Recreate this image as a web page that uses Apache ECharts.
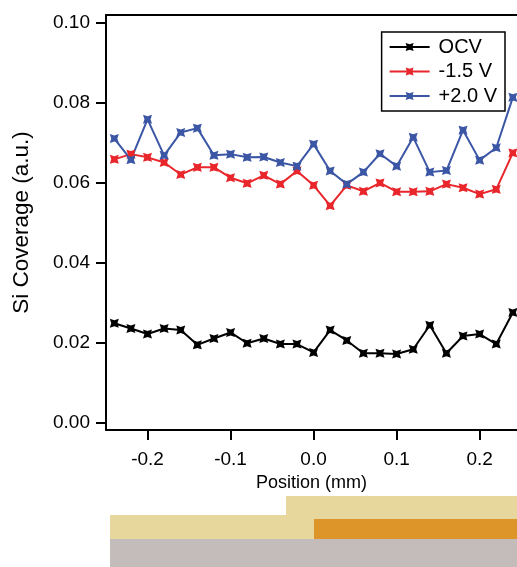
<!DOCTYPE html>
<html>
<head>
<meta charset="utf-8">
<script src="https://cdn.jsdelivr.net/npm/echarts@6/dist/echarts.min.js"></script>
<style>
  html, body { margin: 0; padding: 0; background: #fff; }
  #chart { width: 517px; height: 567px; }
</style>
</head>
<body>
<div id="chart"></div>
<script>
// positions (mm), one point every 0.02 mm
var positions = [-0.24, -0.22, -0.20, -0.18, -0.16, -0.14, -0.12, -0.10, -0.08, -0.06,
    -0.04, -0.02, 0.00, 0.02, 0.04, 0.06, 0.08, 0.10, 0.12, 0.14,
    0.16, 0.18, 0.20, 0.22, 0.24];

var ocv = [0.0249, 0.0236, 0.0222, 0.0236, 0.0232, 0.0195, 0.0211, 0.0226, 0.0199, 0.0211,
    0.0197, 0.0197, 0.0176, 0.0232, 0.0206, 0.0174, 0.0174, 0.0172, 0.0184, 0.0244,
    0.0174, 0.0217, 0.0222, 0.0197, 0.0276];

var minus15 = [0.0659, 0.0672, 0.0664, 0.0651, 0.0621, 0.0639, 0.0639, 0.0613, 0.0599, 0.0619,
    0.0597, 0.0630, 0.0594, 0.0543, 0.0594, 0.0579, 0.0600, 0.0578, 0.0578, 0.0579,
    0.0597, 0.0588, 0.0572, 0.0584, 0.0675];

var plus20 = [0.0711, 0.0658, 0.0759, 0.0669, 0.0726, 0.0737, 0.0669, 0.0672, 0.0664, 0.0665,
    0.0651, 0.0642, 0.0697, 0.0630, 0.0597, 0.0627, 0.0673, 0.0642, 0.0714, 0.0627,
    0.0631, 0.0732, 0.0657, 0.0688, 0.0814];

var xTicks = [-0.2, -0.1, 0.0, 0.1, 0.2];
var yTicks = [0.00, 0.02, 0.04, 0.06, 0.08, 0.10];

var seriesNames = ["OCV", "-1.5 V", "+2.0 V"];
var seriesColors = ["#000000", "#e8262b", "#3b56a5"];

var font = "Liberation Sans, Arial, sans-serif";
var bowtie = "path://M0,0L5,1.6L10,0L8.4,5L10,10L5,8.4L0,10L1.6,5Z";

function pairs(values) {
    return values.map(function (v, i) { return [positions[i], v]; });
}

function lineSeries(name, values, color) {
    return {
        name: name,
        type: "line",
        data: pairs(values),
        symbol: bowtie,
        symbolSize: 9,
        showAllSymbol: true,
        clip: true,
        lineStyle: { color: color, width: 2 },
        itemStyle: { color: color },
        emphasis: { disabled: true },
    };
}

var axisLine = { show: true, onZero: false, lineStyle: { color: "#000", width: 2 } };

var chart = echarts.init(document.getElementById("chart"), null, { renderer: "canvas" });

chart.setOption({
    animation: false,
    backgroundColor: "#fff",
    grid: { left: 106, right: 0, top: 15, bottom: 137 },
    legend: {
        orient: "vertical",
        right: 12,
        top: 32,
        data: seriesNames,
        borderColor: "#000",
        borderWidth: 1.5,
        borderRadius: 0,
        padding: [5, 8, 5, 7],
        itemWidth: 40,
        itemHeight: 10,
        itemGap: 4.5,
        textStyle: { fontFamily: font, fontSize: 20, color: "#000", lineHeight: 20, padding: [0, 0, 0, 4] },
    },
    xAxis: [
        {
            type: "value",
            min: -0.25,
            max: 0.245,
            name: "Position (mm)",
            nameLocation: "middle",
            nameGap: 44,
            nameTextStyle: { fontFamily: font, fontSize: 18, color: "#000" },
            axisLine: axisLine,
            axisTick: { show: true, length: 10, lineStyle: { color: "#000", width: 2 }, customValues: xTicks },
            axisLabel: {
                fontFamily: font, fontSize: 19, color: "#000", margin: 20,
                customValues: xTicks,
                formatter: function (v) { return v.toFixed(1); },
            },
            splitLine: { show: false },
        },
        {
            type: "value",
            position: "top",
            min: -0.25,
            max: 0.245,
            axisLine: axisLine,
            axisTick: { show: false },
            axisLabel: { show: false },
            splitLine: { show: false },
        },
    ],
    yAxis: {
        type: "value",
        min: -0.0018,
        max: 0.102,
        name: "Si Coverage (a.u.)",
        nameLocation: "middle",
        nameGap: 73,
        nameTextStyle: { fontFamily: font, fontSize: 22.5, color: "#000" },
        axisLine: axisLine,
        axisTick: { show: true, length: 10, lineStyle: { color: "#000", width: 2 }, customValues: yTicks },
        axisLabel: {
            fontFamily: font, fontSize: 19, color: "#000", margin: 16,
            customValues: yTicks,
            formatter: function (v) { return v.toFixed(2); },
        },
        splitLine: { show: false },
    },
    series: [
        lineSeries(seriesNames[0], ocv, seriesColors[0]),
        lineSeries(seriesNames[1], minus15, seriesColors[1]),
        lineSeries(seriesNames[2], plus20, seriesColors[2]),
    ],
    graphic: [
        // layer schematic under the plot
        { type: "rect", shape: { x: 110, y: 539, width: 407, height: 28 }, style: { fill: "#c4bcba" }, silent: true },
        { type: "rect", shape: { x: 110, y: 515, width: 204, height: 24 }, style: { fill: "#e8d79d" }, silent: true },
        { type: "rect", shape: { x: 286, y: 496, width: 231, height: 23 }, style: { fill: "#e8d79d" }, silent: true },
        { type: "rect", shape: { x: 314, y: 519, width: 203, height: 20 }, style: { fill: "#dd9429" }, silent: true },
    ],
});
</script>
</body>
</html>
